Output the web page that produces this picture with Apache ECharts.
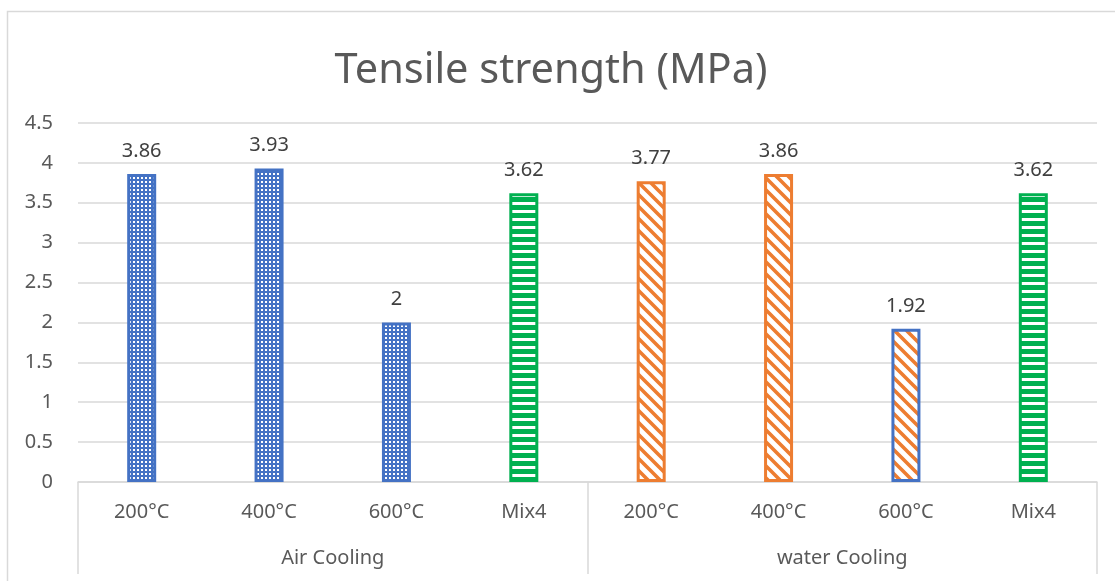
<!DOCTYPE html>
<html>
<head>
<meta charset="utf-8">
<script src="https://cdn.jsdelivr.net/npm/echarts@6/dist/echarts.min.js"></script>
<style>html,body{margin:0;padding:0;background:#fff}#c{width:1115px;height:581px}</style>
</head>
<body>
<div id="c"></div>
<script>
// ---- data ----
const categories = ['200°C', '400°C', '600°C', 'Mix4', '200°C', '400°C', '600°C', 'Mix4'];
const groups = ['Air Cooling', 'water Cooling'];
const values = [3.86, 3.93, 2, 3.62, 3.77, 3.86, 1.92, 3.62];
const yTicks = { min: 0, max: 4.5, interval: 0.5 };

// ---- patterns ----
const BLUE = '#4472C4', ORANGE = '#ED7D31', GREEN = '#00B050';
function tile(w, h, draw) {
  const c = document.createElement('canvas');
  c.width = w; c.height = h;
  draw(c.getContext('2d'), w, h);
  return { image: c, repeat: 'repeat' };
}
const dots = tile(4, 4, (g, w, h) => {
  g.fillStyle = BLUE; g.fillRect(0, 0, w, h);
  g.fillStyle = '#ffffff'; g.fillRect(1, 1, 2, 2);
});
const hstripes = tile(8, 8, (g, w, h) => {
  g.fillStyle = GREEN; g.fillRect(0, 0, w, h);
  g.fillStyle = '#ffffff'; g.fillRect(0, 2, w, 3);
});
const diag = tile(12, 12, (g, w, h) => {
  g.fillStyle = '#ffffff'; g.fillRect(0, 0, w, h);
  g.strokeStyle = ORANGE; g.lineWidth = 3.6;
  g.beginPath();
  for (let k = -1; k <= 1; k++) {
    g.moveTo(-2 + k * w, -2); g.lineTo(w + 2 + k * w, h + 2);
  }
  g.stroke();
});
const styleOf = (i) => {
  if (categories[i] === 'Mix4') return { color: hstripes, borderColor: GREEN };
  if (i < 4) return { color: dots, borderColor: BLUE };
  if (i === 6) return { color: diag, borderColor: BLUE };
  return { color: diag, borderColor: ORANGE };
};

const FONT = 'Noto Sans';
const chart = echarts.init(document.getElementById('c'), null, { renderer: 'canvas' });
chart.setOption({
  animation: false,
  backgroundColor: '#ffffff',
  title: {
    text: 'Tensile strength (MPa)',
    left: 546, top: 45, textAlign: 'center',
    textStyle: { fontFamily: FONT, fontSize: 41.5, fontWeight: 'normal', color: '#595959' }
  },
  graphic: [{
    type: 'rect', shape: { x: 7.5, y: 11.5, width: 1200, height: 700 },
    style: { fill: 'none', stroke: '#d9d9d9', lineWidth: 1.5 }, silent: true
  }],
  grid: { left: 78, right: 18, top: 123, bottom: 99 },
  xAxis: [{
    type: 'category', data: categories, position: 'bottom',
    axisLine: { show: true, lineStyle: { color: '#d9d9d9', width: 1.5 } },
    axisTick: { show: false },
    axisLabel: { margin: 20, fontFamily: FONT, fontSize: 20, color: '#595959' }
  }, {
    type: 'category', data: groups, position: 'bottom',
    axisLine: { show: false },
    axisTick: { show: true, length: 92, lineStyle: { color: '#d9d9d9', width: 1.5 } },
    axisLabel: { margin: 66, fontFamily: FONT, fontSize: 20, color: '#595959' }
  }],
  yAxis: {
    type: 'value', min: yTicks.min, max: yTicks.max, interval: yTicks.interval,
    axisLine: { show: false }, axisTick: { show: false },
    axisLabel: { margin: 25, fontFamily: FONT, fontSize: 20, color: '#595959' },
    splitLine: { lineStyle: { color: '#d9d9d9', width: 1.5 } }
  },
  series: [{
    type: 'bar', xAxisIndex: 0, barWidth: 29,
    data: values.map((v, i) => ({ value: v, itemStyle: Object.assign({ borderWidth: 3 }, styleOf(i)) })),
    label: {
      show: true, position: 'top', distance: 13,
      fontFamily: FONT, fontSize: 20, color: '#404040'
    }
  }]
});
</script>
</body>
</html>
